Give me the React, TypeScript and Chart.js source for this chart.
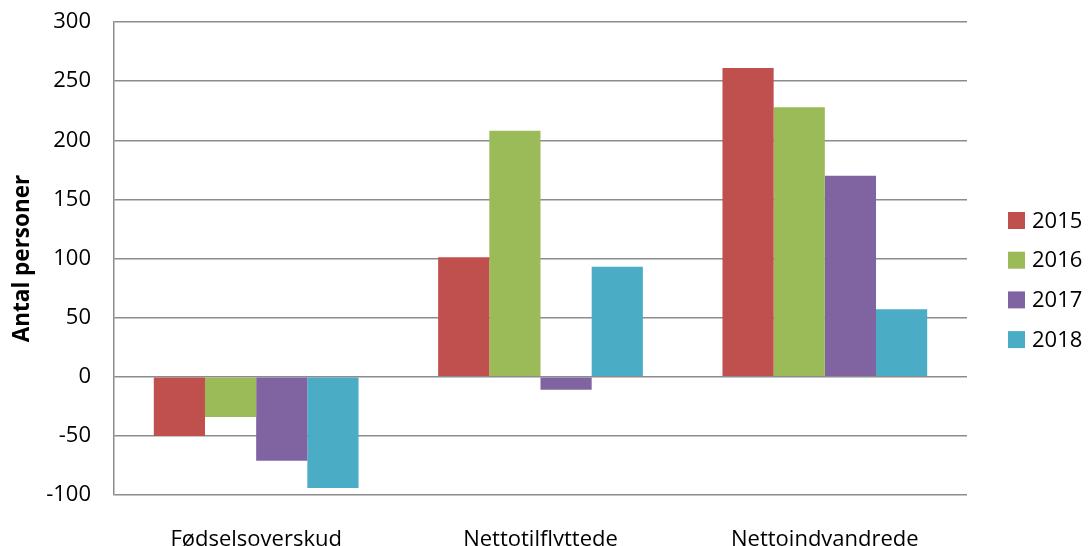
import React, { useEffect, useRef } from "react";
import { Chart, registerables } from "chart.js";

Chart.register(...registerables);

const categories = ["Fødselsoverskud", "Nettotilflyttede", "Nettoindvandrede"];
const seriesNames = ["2015", "2016", "2017", "2018"];
const values2015 = [-50, 101, 261];
const values2016 = [-34, 208, 228];
const values2017 = [-71, -11, 170];
const values2018 = [-94, 93, 57];
const seriesColors = ["#C0504D", "#9BBB59", "#8064A2", "#4BACC6"];
const yTitle = "Antal personer";
const yMin = -100;
const yMax = 300;
const yStep = 50;

const FONT = "'Open Sans', 'Noto Sans', sans-serif";

const legendPlugin = {
  id: "customLegend",
  afterDraw(chart: any) {
    const ctx = chart.ctx;
    ctx.save();
    ctx.font = `22px ${FONT}`;
    ctx.textBaseline = "middle";
    ctx.textAlign = "left";
    chart.data.datasets.forEach((ds: any, i: number) => {
      const cy = 220.5 + i * 39.7;
      ctx.fillStyle = ds.backgroundColor;
      ctx.fillRect(1008, cy - 8.5, 17, 17);
      ctx.fillStyle = "#000";
      ctx.fillText(ds.label, 1032, cy + 1);
    });
    ctx.restore();
  },
};

export default function App() {
  const ref = useRef<HTMLCanvasElement | null>(null);
  useEffect(() => {
    document.body.style.margin = "0";
    const seriesValues = [values2015, values2016, values2017, values2018];
    const chart = new Chart(ref.current as HTMLCanvasElement, {
      type: "bar",
      data: {
        labels: categories,
        datasets: seriesNames.map((name, i) => ({
          label: name,
          data: seriesValues[i],
          backgroundColor: seriesColors[i],
          borderWidth: 0,
          categoryPercentage: 0.72,
          barPercentage: 1.0,
        })),
      },
      options: {
        animation: false,
        responsive: false,
        maintainAspectRatio: false,
        layout: { padding: { top: 22, right: 121, left: 0, bottom: 0 } },
        plugins: {
          legend: { display: false },
          tooltip: { enabled: false },
        },
        scales: {
          x: {
            afterFit: (s: any) => {
              s.height = 51;
            },
            grid: { display: false, drawTicks: false },
            border: { display: false },
            ticks: {
              padding: 32,
              color: "#000",
              font: { family: FONT, size: 22 },
              maxRotation: 0,
              autoSkip: false,
            },
          },
          y: {
            min: yMin,
            max: yMax,
            afterFit: (s: any) => {
              s.width = 114;
            },
            grid: {
              color: "#8c8c8c",
              lineWidth: 1.5,
              drawTicks: true,
              tickLength: 20,
              tickColor: "rgba(0,0,0,0)",
            },
            border: { display: true, color: "#8c8c8c", width: 1.5 },
            ticks: {
              stepSize: yStep,
              padding: 3,
              color: "#000",
              font: { family: FONT, size: 22 },
            },
            title: {
              display: true,
              text: yTitle,
              color: "#000",
              font: { family: FONT, size: 22.5, weight: "bold" },
              padding: { top: 9, bottom: 0 },
            },
          },
        },
      },
      plugins: [legendPlugin],
    });
    return () => chart.destroy();
  }, []);
  return (
    <div style={{ width: 1088, height: 546, position: "relative" }}>
      <canvas ref={ref} width={1088} height={546} style={{ display: "block" }} />
    </div>
  );
}
